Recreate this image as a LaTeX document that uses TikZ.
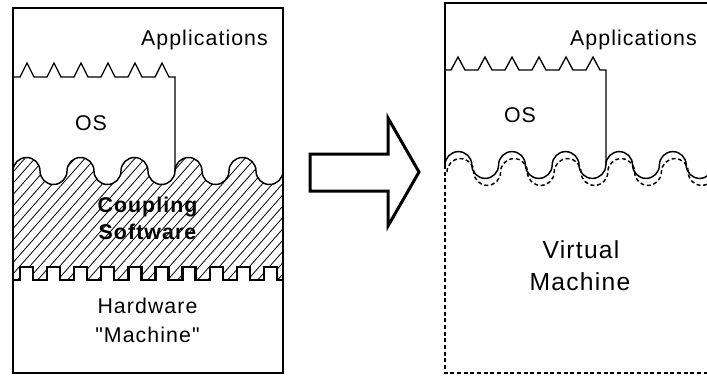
\documentclass[tikz,border=0pt]{standalone}
\usepackage{fontspec}
\setmainfont{Liberation Sans}
\newfontfamily\spacedfont[LetterSpace=5]{Liberation Sans}
\begin{document}
\begin{tikzpicture}[x=0.75pt,y=-0.75pt,
  frame/.style={line width=1.5pt},
  thinline/.style={line width=1pt,line join=miter},
  waveline/.style={line width=1.1pt},
  sqline/.style={line width=1.7pt,line join=miter},
  hatchline/.style={line width=0.6pt},
  dashline/.style={line width=1.1pt,dash pattern=on 3pt off 2pt},
  bigarrow/.style={line width=2.25pt,line join=miter},
  lbl/.style={font=\spacedfont\fontsize{16pt}{20pt}\selectfont,inner sep=0pt},
  boldlbl/.style={font=\spacedfont\fontsize{16pt}{20pt}\selectfont\bfseries,inner sep=0pt},
  vmlbl/.style={font=\spacedfont\fontsize{18.5pt}{22pt}\selectfont,inner sep=0pt}]
\useasboundingbox (0,0) rectangle (707,376);
\clip (0,0) rectangle (707,376);
\def\RL{10.125pt}% half-wave radius, left panel
\def\RR{10.05pt}% half-wave radius, right panel

% ---------- left panel ----------
% hatched coupling layer between the round wave and the square wave
\begin{scope}
  \clip (13,171) \foreach \i in {1,...,5}{ arc[start angle=180,end angle=0,radius=\RL] arc[start angle=180,end angle=360,radius=\RL] } -- (283,300) -- (13,300) -- cycle;
  \clip (13,280) \foreach \k in {0,...,9}{ -- ({20+27.1*\k},280) -- ({20+27.1*\k},267) -- ({33+27.1*\k},267) -- ({33+27.1*\k},280) } -- (283,280) -- (283,100) -- (13,100) -- cycle;
  \foreach \x in {-200,-190,...,300} \draw[hatchline] (\x,300) -- ++(150,-170);
\end{scope}
\draw[waveline] (13,171) \foreach \i in {1,...,5}{ arc[start angle=180,end angle=0,radius=\RL] arc[start angle=180,end angle=360,radius=\RL] };
\draw[sqline] (13,280) \foreach \k in {0,...,9}{ -- ({20+27.1*\k},280) -- ({20+27.1*\k},267) -- ({33+27.1*\k},267) -- ({33+27.1*\k},280) } -- (283,280);
\draw[thinline] (13,77) \foreach \p in {27,54,81,108,135,162}{ -- ({\p-7},77) -- (\p,63) -- ({\p+7},77) } -- (175,77) -- (175,171);
\draw[frame] (13,8) rectangle (283,373);

\node[lbl,anchor=base] (appsL) at (204.5,45) {Applications};
\node[lbl,anchor=base] (osL) at (91,130) {OS};
\node[boldlbl,anchor=base] (coupling) at (147.5,212) {Coupling};
\node[boldlbl,anchor=base] (software) at (147.5,239) {Software};
\node[lbl,anchor=base] (hardware) at (147.5,313) {Hardware};
\node[lbl,anchor=base] (machineL) at (147.5,342) {\char34 Machine\char34};

% ---------- arrow ----------
\draw[bigarrow] (310,154) -- (388,154) -- (388,118) -- (419,172) -- (388,226) -- (388,191) -- (310,191) -- cycle;

% ---------- right panel ----------
\draw[dashline] (447,172) \foreach \i in {1,...,5}{ arc[start angle=180,end angle=0,radius=\RR] arc[start angle=180,end angle=360,radius=\RR] };
\draw[waveline] (445,165) \foreach \i in {1,...,5}{ arc[start angle=180,end angle=0,radius=\RR] arc[start angle=180,end angle=360,radius=\RR] };
\draw[thinline] (445,70) \foreach \p in {458,485,512,539,566,593}{ -- ({\p-7},70) -- (\p,57) -- ({\p+7},70) } -- (606,70) -- (606,165);
\draw[frame] (715,3) -- (445,3) -- (445,165);
\draw[frame,dash pattern=on 3pt off 2pt] (445,165) -- (445,373) -- (715,373);

\node[lbl,anchor=base] (appsR) at (633.5,45) {Applications};
\node[lbl,anchor=base] (osR) at (520,122) {OS};
\node[vmlbl,anchor=base] (virtual) at (581,258) {Virtual};
\node[vmlbl,anchor=base] (machineR) at (580,290) {Machine};
\end{tikzpicture}
\end{document}
